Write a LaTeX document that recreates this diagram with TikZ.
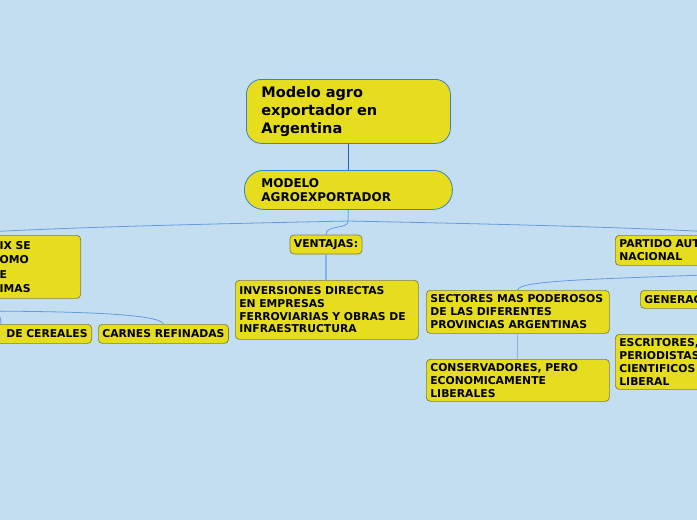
\documentclass[tikz,border=0pt]{standalone}
\usepackage{fontspec}
\setmainfont{DejaVu Sans}
\usepackage{tikz}
\usetikzlibrary{positioning}
\definecolor{mybg}{RGB}{196,222,241}
\definecolor{myyellow}{RGB}{230,221,30}
\definecolor{myblue}{RGB}{55,130,205}
\definecolor{mydark}{RGB}{25,100,190}
\definecolor{mylink}{RGB}{100,155,222}
\definecolor{mylight}{RGB}{135,180,230}
\definecolor{myedge}{RGB}{128,126,70}

\begin{document}
\begin{tikzpicture}[
    x = 1pt, y = -1pt,
    b0/.style = {draw = myblue, fill = myyellow, line width = 0.8pt, rounded corners = 15pt, align = left, anchor = north west, inner xsep = 15pt, font = \bfseries\fontsize{14.5}{18}\selectfont},
    b1/.style = {draw = myblue, fill = myyellow, line width = 0.8pt, rounded corners = 19pt, align = left, anchor = north west, inner xsep = 17pt, font = \bfseries\fontsize{12}{14.5}\selectfont},
    b2/.style = {draw = myedge, fill = myyellow, line width = 0.7pt, rounded corners = 4pt, align = left, inner xsep = 4pt, inner ysep = 3pt, font = \bfseries\fontsize{10.8}{12.8}\selectfont},
    l0/.style = {line width = 1.4pt, draw = mydark},
    l1/.style = {line width = 0.8pt, draw = mylink},
    l2/.style = {line width = 1.2pt, draw = mylight},
]

\path[use as bounding box, fill = mybg] (0,0) rectangle (697,520);
\clip (0,0) rectangle (697,520);

% centre
\node[b0, text width = 174pt, minimum height = 64pt] (title) at (246,79) {Modelo agro\\exportador en\\Argentina};
\node[b1, text width = 174pt, minimum height = 39pt] (modelo) at (244,170) {MODELO\\AGROEXPORTADOR};
\node[b2, minimum height = 19pt] (ventajas) at (326,244.5) {VENTAJAS:};
\node[b2, anchor = north west, text width = 175pt, minimum height = 59pt] (inversiones) at (235,280) {INVERSIONES DIRECTAS\\EN EMPRESAS\\FERROVIARIAS Y OBRAS DE\\INFRAESTRUCTURA};

% left, cut by the border
\node[b2, anchor = north east, text width = 77pt, minimum height = 63pt, font = \bfseries\fontsize{10.8}{14.5}\selectfont] (siglo) at (81,235) {IX SE\\OMO\\E\\IMAS};
\node[b2, anchor = north east, text width = 174pt, align = right, minimum height = 19pt] (cereales) at (92,324) {DE CEREALES};
\node[b2, anchor = north west, minimum height = 19pt] (carnes) at (98,324) {CARNES REFINADAS};

% right, cut by the border
\node[b2, anchor = north west, text width = 150pt, minimum height = 30pt] (partido) at (615,235) {PARTIDO AUT\\NACIONAL};
\node[b2, anchor = north west, text width = 175pt, minimum height = 43pt] (sectores) at (426,290) {SECTORES MAS PODEROSOS\\DE LAS DIFERENTES\\PROVINCIAS ARGENTINAS};
\node[b2, anchor = north west, text width = 175pt, minimum height = 42pt] (conservadores) at (426,359) {CONSERVADORES, PERO\\ECONOMICAMENTE\\LIBERALES};
\node[b2, anchor = north west, text width = 130pt, minimum height = 18pt] (generacion) at (640,290) {GENERAC};
\node[b2, anchor = north west, text width = 150pt, minimum height = 55pt] (escritores) at (615,334) {ESCRITORES,\\PERIODISTAS\\CIENTIFICOS\\LIBERAL};

% ends that lie outside the picture
\coordinate (hub) at (348,221);
\coordinate (sigloIn) at (-60,235);
\coordinate (sigloHub) at (-40,311);
\coordinate (partidoIn) at (760,235);
\coordinate (partidoHub) at (760,273);

\draw[l0] (title) -- (modelo);
\draw[l1] (modelo.south) -- (hub);
\draw[l1] (hub) .. controls (260,223) and (40,227) .. (sigloIn);
\draw[l1] (hub) .. controls (440,223) and (660,227) .. (partidoIn);
\draw[l1] (hub) .. controls (348,230) and (326,224) .. (ventajas.north);
\draw[l2] (ventajas.south) -- (ventajas.south |- inversiones.north);

\draw[l1] (sigloHub) .. controls (80,311) and (160,314) .. (carnes.north);
\draw[l1] (sigloHub) .. controls (0,311) .. (cereales.north -| 1,0);

\draw[l1] (partidoHub) .. controls (600,279) and (518,280) .. (sectores.north);
\draw[l1] (partidoHub) .. controls (720,280) .. (generacion.north);
\draw[l2] (sectores) -- (conservadores);
\draw[l2] (generacion) -- (escritores);

\end{tikzpicture}
\end{document}
